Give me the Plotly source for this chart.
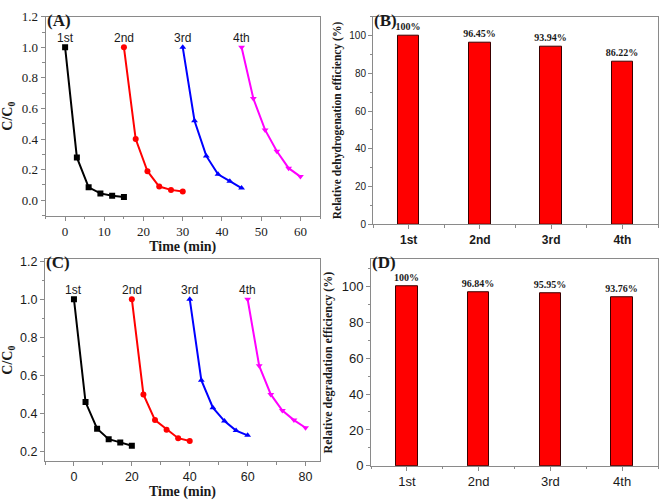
import plotly.graph_objects as go

# ---------- data ----------
run_labels = ["1st", "2nd", "3rd", "4th"]

# Panel A: dehydrogenation cycles
a_time = [[0, 3, 6, 9, 12, 15], [15, 18, 21, 24, 27, 30],
          [30, 33, 36, 39, 42, 45], [45, 48, 51, 54, 57, 60]]
a_conc = [[1.0, 0.28, 0.085, 0.045, 0.03, 0.022],
          [1.0, 0.40, 0.19, 0.09, 0.068, 0.057],
          [1.0, 0.52, 0.29, 0.17, 0.125, 0.08],
          [1.0, 0.665, 0.46, 0.32, 0.21, 0.155]]

# Panel C: degradation cycles
c_time = [[0, 4, 8, 12, 16, 20], [20, 24, 28, 32, 36, 40],
          [40, 44, 48, 52, 56, 60], [60, 64, 68, 72, 76, 80]]
c_conc = [[1.0, 0.46, 0.32, 0.265, 0.248, 0.23],
          [1.0, 0.50, 0.365, 0.315, 0.27, 0.255],
          [1.0, 0.575, 0.43, 0.36, 0.31, 0.285],
          [1.0, 0.65, 0.50, 0.415, 0.365, 0.325]]

b_eff = [100, 96.45, 93.94, 86.22]
b_text = ["100%", "96.45%", "93.94%", "86.22%"]
d_eff = [100, 96.84, 95.95, 93.76]
d_text = ["100%", "96.84%", "95.95%", "93.76%"]

colors = ["#000000", "#ff0000", "#0000ff", "#ff00ff"]
symbols = ["square", "circle", "triangle-up", "triangle-down"]

W, H = 661, 503
def xd(l, r):
    return [l / W, r / W]
def yd(t, b):
    return [1 - b / H, 1 - t / H]

SERIF = "Liberation Serif, Times New Roman, serif"
SANS = "Liberation Sans, Arial, sans-serif"
FRAME = "#8a8a8a"
TXT = "#1a1a1a"

fig = go.Figure()

# curve panels
for times, concs, xa, ya in [(a_time, a_conc, "x", "y"), (c_time, c_conc, "x3", "y3")]:
    for i in range(4):
        fig.add_trace(go.Scatter(
            x=times[i], y=concs[i], mode="lines+markers",
            line=dict(color=colors[i], width=2),
            marker=dict(symbol=symbols[i], size=6, color=colors[i]),
            xaxis=xa, yaxis=ya, showlegend=False))
        fig.add_annotation(x=times[i][0], y=concs[i][0], xref=xa, yref=ya,
                           text=run_labels[i], showarrow=False, yshift=9,
                           yanchor="middle",
                           font=dict(family=SANS, size=12, color=TXT))

# bar panels
for vals, txt, xa, ya in [(b_eff, b_text, "x2", "y2"), (d_eff, d_text, "x4", "y4")]:
    fig.add_trace(go.Bar(
        x=list(range(4)), y=vals, width=0.3, text=txt, textposition="outside",
        cliponaxis=False, constraintext="none",
        textfont=dict(family=SERIF, size=10, color=TXT, weight="bold"),
        marker=dict(color="#ff0000", line=dict(color="#3a0000", width=1)),
        xaxis=xa, yaxis=ya, showlegend=False))

def frame_axis(**kw):
    d = dict(showline=True, linecolor=FRAME, linewidth=1, mirror=True,
             ticks="outside", ticklen=4, tickcolor=FRAME, showgrid=False,
             zeroline=False)
    d.update(kw)
    return d

tfA = dict(family=SERIF, size=13, color=TXT)
tfC = dict(family=SANS, size=12.5, color=TXT)
titleF = dict(family=SERIF, size=14, color=TXT, weight="bold")

fig.update_layout(
    width=W, height=H, margin=dict(l=0, r=0, t=0, b=0),
    plot_bgcolor="white", paper_bgcolor="white", bargap=0,
    xaxis=frame_axis(domain=xd(45.5, 320), anchor="y", range=[-5, 65],
                     tickvals=[0, 10, 20, 30, 40, 50, 60], tickfont=tfA,
                     minor=dict(ticks="outside", ticklen=2.5, tickcolor=FRAME, dtick=5, tick0=0),
                     title=dict(text="Time (min)", font=titleF, standoff=1)),
    yaxis=frame_axis(domain=yd(10, 215), anchor="x", range=[-0.1, 1.2],
                     tickvals=[0, 0.2, 0.4, 0.6, 0.8, 1.0, 1.2], tickformat=".1f", tickfont=tfA,
                     minor=dict(ticks="outside", ticklen=2.5, tickcolor=FRAME, dtick=0.1, tick0=0),
                     title=dict(text="C/C<sub>0</sub>", font=titleF, standoff=5)),
    xaxis2=frame_axis(domain=xd(373, 658), anchor="y2", range=[-0.5, 3.5],
                      tickvals=[0, 1, 2, 3], ticktext=run_labels,
                      tickfont=dict(family=SANS, size=12, color=TXT, weight="bold"),
                      minor=dict(ticks="outside", ticklen=2.5, tickcolor=FRAME, dtick=0.5, tick0=0)),
    yaxis2=frame_axis(domain=yd(10, 224), anchor="x2", range=[0, 110],
                      tickvals=[0, 20, 40, 60, 80, 100],
                      tickfont=dict(family=SANS, size=10, color=TXT),
                      minor=dict(ticks="outside", ticklen=2.5, tickcolor=FRAME, dtick=10, tick0=0),
                      title=dict(text="Relative dehydrogenation efficiency (%)",
                                 font=dict(family=SERIF, size=11.5, color=TXT, weight="bold"), standoff=5)),
    xaxis3=frame_axis(domain=xd(45, 320), anchor="y3", range=[-10, 85],
                      tickvals=[0, 20, 40, 60, 80], tickfont=tfC,
                      minor=dict(ticks="outside", ticklen=2.5, tickcolor=FRAME, dtick=10, tick0=0),
                      title=dict(text="Time (min)", font=titleF, standoff=3)),
    yaxis3=frame_axis(domain=yd(260, 468), anchor="x3", range=[0.15, 1.21],
                      tickvals=[0.2, 0.4, 0.6, 0.8, 1.0, 1.2], tickformat=".1f", tickfont=tfC,
                      minor=dict(ticks="outside", ticklen=2.5, tickcolor=FRAME, dtick=0.1, tick0=0),
                      title=dict(text="C/C<sub>0</sub>", font=titleF, standoff=6)),
    xaxis4=frame_axis(domain=xd(371, 658), anchor="y4", range=[-0.5, 3.5],
                      tickvals=[0, 1, 2, 3], ticktext=run_labels,
                      tickfont=dict(family=SANS, size=13, color=TXT),
                      minor=dict(ticks="outside", ticklen=2.5, tickcolor=FRAME, dtick=0.5, tick0=0)),
    yaxis4=frame_axis(domain=yd(260, 473), anchor="x4", range=[0, 115],
                      tickvals=[0, 20, 40, 60, 80, 100],
                      tickfont=dict(family=SANS, size=13, color=TXT),
                      minor=dict(ticks="outside", ticklen=2.5, tickcolor=FRAME, dtick=10, tick0=0),
                      title=dict(text="Relative degradation efficiency (%)",
                                 font=dict(family=SERIF, size=12, color=TXT, weight="bold"), standoff=6)),
)

for lab, xa, ya in [("(A)", "x", "y"), ("(B)", "x2", "y2"), ("(C)", "x3", "y3"), ("(D)", "x4", "y4")]:
    fig.add_annotation(text=lab, x=0.0, y=1.0, xref=f"{xa} domain", yref=f"{ya} domain",
                       xanchor="left", yanchor="top", showarrow=False, borderpad=0,
                       yshift=7,
                       font=dict(family=SERIF, size=17, color=TXT, weight="bold"))

fig.write_html("out.html")
